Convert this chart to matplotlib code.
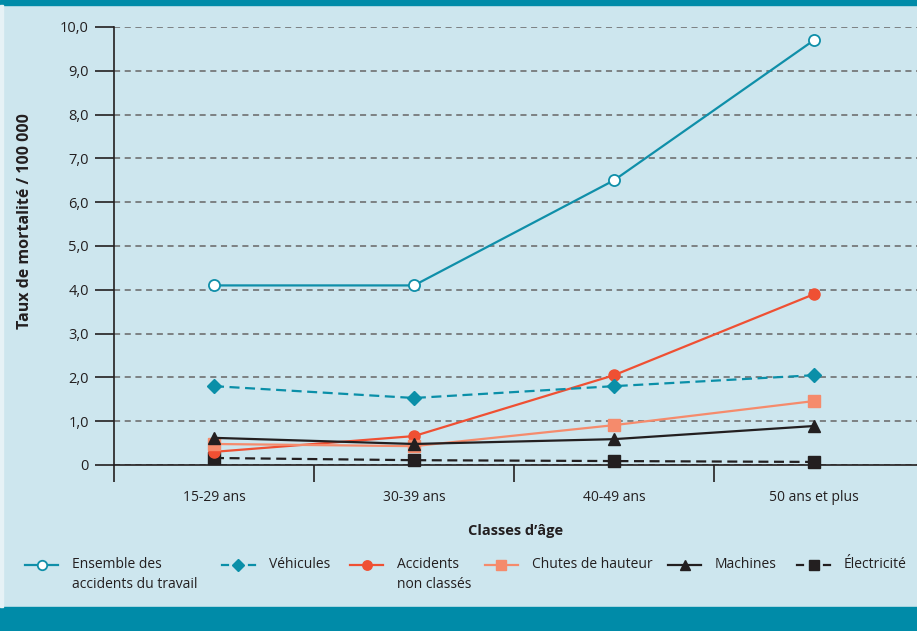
import numpy as np
import matplotlib
matplotlib.use('Agg')
import matplotlib.pyplot as plt
from matplotlib.patches import Rectangle
from matplotlib.lines import Line2D

plt.rcParams['font.family'] = ['Open Sans', 'DejaVu Sans']

## data: taux de mortalité pour 100 000, par classe d'âge
classes = ['15-29 ans', '30-39 ans', '40-49 ans', '50 ans et plus']
ensemble = [4.1, 4.1, 6.5, 9.7]
vehicules = [1.8, 1.53, 1.8, 2.05]
non_classes = [0.3, 0.66, 2.05, 3.9]
chutes = [0.48, 0.43, 0.91, 1.46]
machines = [0.62, 0.48, 0.59, 0.89]
electricite = [0.16, 0.11, 0.09, 0.07]

yticks = np.arange(0, 11)
yticklabels = ['0'] + ['{:.1f}'.format(v).replace('.', ',') for v in yticks[1:]]

bg = '#cde6ee'
teal = '#008ba8'
ink = '#231f20'

W, H = 917, 631
fig = plt.figure(figsize=(W / 100, H / 100), dpi=100)
fig.patch.set_facecolor(bg)

# bands top and bottom, pale strip on the left edge
fig.patches.append(Rectangle((0, 1 - 5/H), 1, 5/H, transform=fig.transFigure,
                             color=teal, zorder=0))
fig.patches.append(Rectangle((0, 0), 1, 24/H, transform=fig.transFigure,
                             color=teal, zorder=0))
fig.patches.append(Rectangle((0, 24/H), 3/W, 1 - 29/H, transform=fig.transFigure,
                             color='#e6f2f6', zorder=0))

ax = fig.add_axes([114/W, 166/H, 1 - 114/W, 438/H])
ax.set_facecolor('none')

x = np.arange(len(classes))
lw = 1.6
dash = (0, (4.5, 2.5))

l_elec, = ax.plot(x, electricite, color=ink, lw=lw, ls=dash,
                  marker='s', ms=9, clip_on=False, zorder=3)
l_acc, = ax.plot(x, non_classes, color='#ef5033', lw=lw, marker='o', ms=8,
                 clip_on=False, zorder=4)
l_chu, = ax.plot(x, chutes, color='#f58b6c', lw=lw, marker='s', ms=8.5,
                 clip_on=False, zorder=5)
l_mac, = ax.plot(x, machines, color=ink, lw=lw, marker='^', ms=8.5,
                 clip_on=False, zorder=6)
l_veh, = ax.plot(x, vehicules, color='#0a8fa8', lw=lw, ls=dash,
                 marker='D', ms=7, clip_on=False, zorder=7)
l_ens, = ax.plot(x, ensemble, color='#0f8fa9', lw=lw, marker='o', ms=8,
                 mfc='white', mec='#0f8fa9', mew=1.3, clip_on=False, zorder=8)

ax.set_xlim(-0.5, 3.515)
ax.set_ylim(0, 10)

for s in ['top', 'right']:
    ax.spines[s].set_visible(False)
for s in ['left', 'bottom']:
    ax.spines[s].set_color(ink)
    ax.spines[s].set_linewidth(1.2)

ax.set_yticks(yticks)
ax.set_yticklabels(yticklabels)
ax.tick_params(axis='y', direction='out', length=14, width=1.2, color=ink,
               labelsize=10.5, labelcolor=ink, pad=4)

# ticks mark the class boundaries, labels sit in the middle
ax.set_xticks([-0.5, 0.5, 1.5, 2.5])
ax.set_xticklabels([])
ax.set_xticks(x, minor=True)
ax.set_xticklabels(classes, minor=True)
ax.tick_params(axis='x', which='major', direction='out', length=12, width=1.2,
               color=ink)
ax.tick_params(axis='x', which='minor', length=0, labelsize=10,
               labelcolor=ink, pad=18)

ax.yaxis.grid(True, color='#666666', lw=1.1, ls=(0, (4, 3)))
ax.set_axisbelow(True)

ax.set_ylabel('Taux de mortalité / 100 000', fontsize=11.5, fontweight='bold',
              color=ink)
ax.yaxis.set_label_coords(-0.101, 0.557)
ax.set_xlabel('Classes d’âge', fontsize=10.5, fontweight='bold', color=ink,
              labelpad=14)

## legend, laid out by hand so the handles line up with the first text line
handles = [l_ens, l_veh, l_acc, l_chu, l_mac, l_elec]
labels = [['Ensemble des', 'accidents du travail'], ['Véhicules'],
          ['Accidents', 'non classés'], ['Chutes de hauteur'], ['Machines'],
          ['Électricité']]
starts = [25, 222, 350, 485, 668, 797]
yl = 1 - 565/H

for h, lab, x0 in zip(handles, labels, starts):
    style = dict(color=h.get_color(), lw=h.get_linewidth(), transform=fig.transFigure)
    if h.get_linestyle() == '-':
        segs = [(x0, x0 + 33)]
    else:
        segs = [(x0, x0 + 6), (x0 + 27, x0 + 33)]
    for a, b in segs:
        fig.lines.append(Line2D([a / W, b / W], [yl, yl], **style))
    fig.lines.append(Line2D([(x0 + 16.5) / W], [yl], ls='none', marker=h.get_marker(),
                            ms=h.get_markersize() * 0.85, mfc=h.get_markerfacecolor(),
                            mec=h.get_markeredgecolor(), mew=h.get_markeredgewidth(),
                            transform=fig.transFigure))
    for i, line in enumerate(lab):
        fig.text((x0 + 47) / W, yl - i * 20 / H, line, fontsize=10, color=ink,
                 ha='left', va='center')

fig.savefig('out.png', dpi=100, facecolor=bg)
